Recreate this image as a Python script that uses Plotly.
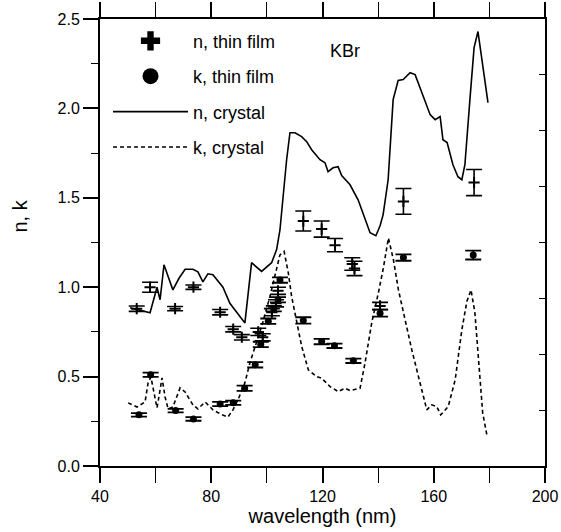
import plotly.graph_objects as go

# ---- data ----
n_cryst_x = [50.8, 58.0, 60.5, 61.6, 63.0, 66.2, 68.4, 70.6, 73.4, 75.2, 77.0, 78.8, 80.6, 84.2, 86.7,
             89.3, 92.1, 94.5, 98.1, 101.7, 103.5, 104.7, 107.1, 108.3, 110.1, 112.5, 114.3, 116.1,
             119.1, 120.9, 122.0, 123.8, 125.6, 126.9, 129.9, 132.8, 135.3, 137.1, 139.2, 140.7,
             141.8, 143.6, 145.4, 147.2, 149.0, 151.5, 153.3, 156.1, 158.7, 160.5, 162.3, 163.3,
             164.8, 166.9, 168.7, 170.1, 171.2, 173.0, 174.5, 175.9, 177.7, 179.5]
n_cryst_y = [0.885, 0.857, 1.00, 0.93, 1.125, 0.985, 1.05, 1.10, 1.10, 1.086, 1.03, 1.075, 1.07, 1.00, 0.91,
             0.86, 0.80, 1.137, 1.088, 1.137, 1.21, 1.32, 1.713, 1.864, 1.864, 1.842, 1.814, 1.769,
             1.713, 1.696, 1.646, 1.668, 1.674, 1.624, 1.573, 1.489, 1.377, 1.305, 1.288, 1.344,
             1.406, 1.601, 2.049, 2.156, 2.161, 2.200, 2.189, 2.077, 1.965, 1.937, 1.954, 1.825,
             1.809, 1.685, 1.618, 1.601, 1.685, 2.049, 2.340, 2.430, 2.228, 2.032]

k_cryst_x = [50.1, 53.3, 56.2, 57.3, 58.3, 59.4, 60.5, 61.6, 62.3, 63.4, 64.5, 66.2, 68.8, 70.6, 73.4,
             75.2, 77.8, 80.6, 83.9, 86.0, 87.8, 89.6, 92.1, 93.9, 95.7, 98.1, 101.1, 103.5, 104.7,
             106.2, 107.7, 108.9, 110.7, 112.5, 114.9, 117.9, 119.7, 122.7, 125.7, 128.1, 129.9,
             133.5, 135.3, 137.7, 140.1, 141.9, 143.7, 145.5, 147.3, 149.7, 152.1, 155.1, 157.5,
             159.3, 161.1, 162.5, 165.2, 167.7, 170.1, 171.9, 173.4, 174.8, 176.4, 177.6, 179.1]
k_cryst_y = [0.353, 0.330, 0.358, 0.465, 0.498, 0.409, 0.325, 0.426, 0.493, 0.386, 0.319, 0.330, 0.437,
             0.414, 0.342, 0.319, 0.358, 0.314, 0.286, 0.274, 0.314, 0.370, 0.465, 0.577, 0.666,
             0.780, 0.948, 1.097, 1.181, 1.200, 1.081, 0.948, 0.817, 0.670, 0.538, 0.500, 0.491,
             0.444, 0.416, 0.435, 0.422, 0.435, 0.577, 0.801, 0.969, 1.109, 1.275, 1.153, 0.985,
             0.817, 0.650, 0.463, 0.314, 0.342, 0.332, 0.286, 0.332, 0.482, 0.761, 0.920, 0.985,
             0.857, 0.556, 0.296, 0.174]

n_film_x = [53.2, 58.0, 67.0, 73.6, 83.2, 87.9, 91.0, 96.9, 98.5, 101.8, 103.3, 104.0,
            113.1, 119.7, 124.5, 130.7, 131.5, 140.7, 149.1, 174.5]
n_film_y = [0.88, 1.00, 0.88, 1.00, 0.86, 0.765, 0.72, 0.75, 0.72, 0.86, 0.91, 0.98,
            1.37, 1.325, 1.235, 1.13, 1.105, 0.895, 1.48, 1.585]
n_film_err = [0.015, 0.028, 0.012, 0.012, 0.015, 0.015, 0.015, 0.02, 0.02, 0.02, 0.02, 0.02,
              0.056, 0.045, 0.037, 0.035, 0.04, 0.02, 0.072, 0.073]

k_film_x = [54.0, 58.2, 67.2, 73.6, 83.2, 87.9, 92.0, 95.8, 97.8, 100.5, 102.5, 104.0, 104.7,
            113.1, 119.7, 124.3, 131.1, 140.7, 149.1, 174.2]
k_film_y = [0.286, 0.51, 0.31, 0.263, 0.347, 0.354, 0.435, 0.566, 0.68, 0.81, 0.88, 0.93, 1.04,
            0.814, 0.696, 0.672, 0.588, 0.855, 1.166, 1.18]
k_film_err = [0.01, 0.012, 0.01, 0.01, 0.012, 0.012, 0.015, 0.015, 0.015, 0.015, 0.015, 0.015, 0.015,
              0.018, 0.015, 0.012, 0.012, 0.02, 0.018, 0.025]

legend_names = ["n, thin film", "k, thin film", "n, crystal", "k, crystal"]

FONT = "Liberation Sans, Arial, sans-serif"
DASH = "4px,3px"

fig = go.Figure()

# crystal curves
fig.add_trace(go.Scatter(x=n_cryst_x, y=n_cryst_y, mode="lines",
                         line=dict(color="black", width=1.6), showlegend=False))
fig.add_trace(go.Scatter(x=k_cryst_x, y=k_cryst_y, mode="lines",
                         line=dict(color="black", width=1.6, dash=DASH), showlegend=False))

# thin film points
fig.add_trace(go.Scatter(x=n_film_x, y=n_film_y, mode="markers",
                         marker=dict(symbol="cross-thin", size=8, color="black",
                                     line=dict(color="black", width=2)),
                         error_y=dict(type="data", array=n_film_err, color="black",
                                      thickness=1.6, width=8),
                         showlegend=False))
fig.add_trace(go.Scatter(x=k_film_x, y=k_film_y, mode="markers",
                         marker=dict(symbol="circle", size=7, color="black"),
                         error_y=dict(type="data", array=k_film_err, color="black",
                                      thickness=1.8, width=8),
                         showlegend=False))

# legend proxies
fig.add_trace(go.Scatter(x=[None], y=[None], mode="markers", name=legend_names[0], legendgroup="a",
                         marker=dict(symbol="cross", size=16, color="black")))
fig.add_trace(go.Scatter(x=[None], y=[None], mode="markers", name=legend_names[1], legendgroup="b",
                         marker=dict(symbol="circle", size=16, color="black")))
fig.add_trace(go.Scatter(x=[None], y=[None], mode="lines", name=legend_names[2], legendgroup="c",
                         line=dict(color="black", width=1.6)))
fig.add_trace(go.Scatter(x=[None], y=[None], mode="lines", name=legend_names[3], legendgroup="d",
                         line=dict(color="black", width=1.6, dash=DASH)))

# right-hand tick-only axis
fig.add_trace(go.Scatter(x=[None], y=[None], yaxis="y2", showlegend=False))

fig.add_annotation(x=128, y=2.32, xref="x", yref="y", text="KBr", showarrow=False,
                   font=dict(size=18, color="black", family=FONT))
# y-axis title (placed slightly above centre as in the reference)
fig.add_annotation(x=-0.18, y=0.56, xref="paper", yref="paper", text="n, k", showarrow=False,
                   xanchor="center", yanchor="middle",
                   textangle=-90, font=dict(size=20, color="black", family=FONT))

fig.update_layout(
    width=561, height=532,
    margin=dict(l=100, r=16, t=19, b=66, autoexpand=False),
    paper_bgcolor="white", plot_bgcolor="white",
    font=dict(family=FONT, color="black", size=16),
    legend=dict(x=0.018, y=0.992, xanchor="left", yanchor="top",
                font=dict(size=18, family=FONT), tracegroupgap=9, itemwidth=75,
                bgcolor="rgba(0,0,0,0)", borderwidth=0),
    xaxis=dict(range=[40, 200], dtick=40, tick0=40, ticks="outside", ticklen=15, tickwidth=1.6,
               tickcolor="black", automargin=False,
               showline=True, linewidth=2, linecolor="black", mirror="allticks",
               showgrid=False, zeroline=False,
               minor=dict(dtick=20, ticks="outside", ticklen=7, tickwidth=1.3, tickcolor="black"),
               title=dict(text="wavelength (nm)", font=dict(size=20), standoff=4),
               tickfont=dict(size=16)),
    yaxis=dict(range=[0, 2.5], dtick=0.5, tick0=0, ticks="outside", ticklen=15, tickwidth=1.6,
               tickcolor="black", automargin=False, tickformat=".1f",
               showline=True, linewidth=2, linecolor="black", mirror=True,
               showgrid=False, zeroline=False,
               minor=dict(dtick=0.25, ticks="outside", ticklen=7, tickwidth=1.3, tickcolor="black"),
               tickfont=dict(size=16)),
    yaxis2=dict(range=[0, 8], dtick=1, overlaying="y", side="right", ticks="inside",
                ticklen=6, tickwidth=1.2, tickcolor="black", showticklabels=False, showgrid=False,
                zeroline=False, showline=False, automargin=False),
)

fig.write_html("out.html")
